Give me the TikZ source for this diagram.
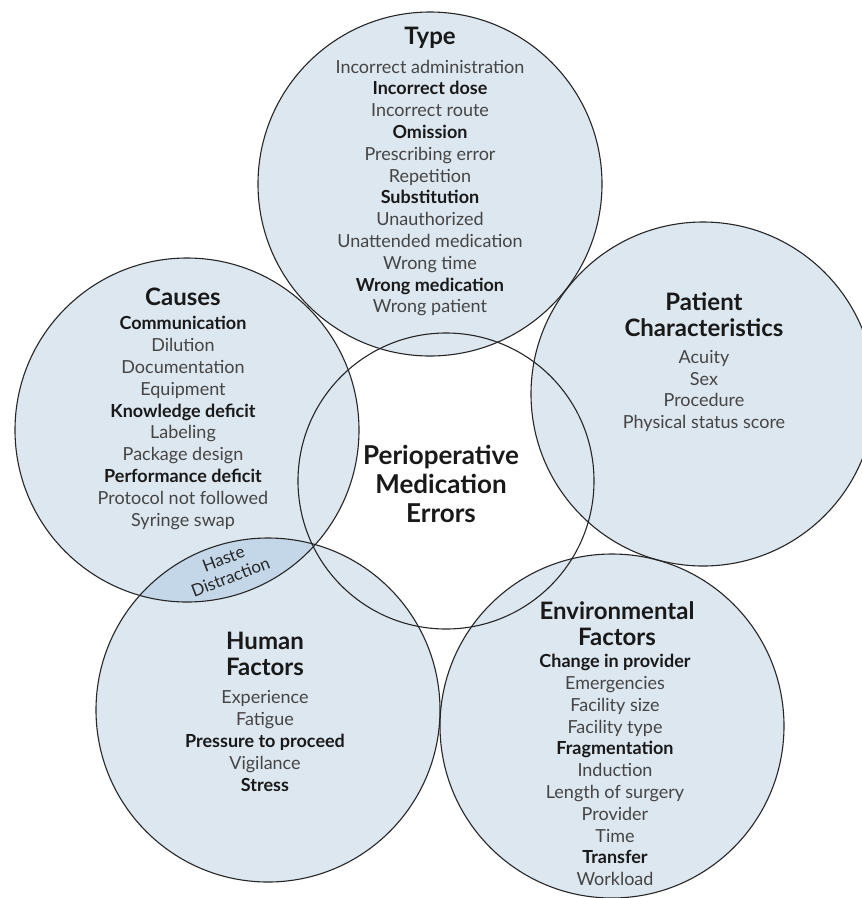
\documentclass[tikz,border=0pt]{standalone}
\usepackage{fontspec}
\setmainfont{Lato}
\usetikzlibrary{positioning}
\definecolor{venn}{HTML}{DDE7F0}
\definecolor{lens}{HTML}{C4D7E8}
\definecolor{itemgray}{HTML}{454545}
\newcommand{\hl}[1]{\textcolor{black!90}{\textbf{#1}}}

\begin{document}
\begin{tikzpicture}[x=1pt,y=-1pt,
  title/.style={align=center,font=\fontsize{24}{26}\selectfont\bfseries,text=black!90,inner sep=0pt},
  items/.style={align=center,font=\fontsize{18}{21.8}\selectfont,text=itemgray,inner sep=0pt},
  ring/.style={draw=black!85,line width=1.1pt}]
\clip (0,0) rectangle (862,898);
\coordinate (type) at (430,184);
\coordinate (causes) at (187,430);
\coordinate (patient) at (703,394);
\coordinate (human) at (268,710);
\coordinate (env) at (612,726);
\coordinate (core) at (446,481);
\fill[venn] (type) circle[radius=172pt];
\fill[venn] (causes) circle[radius=172pt];
\fill[venn] (patient) circle[radius=172pt];
\fill[venn] (human) circle[radius=172pt];
\fill[venn] (env) circle[radius=172pt];
\begin{scope}
\clip (causes) circle[radius=172pt];
\fill[lens] (human) circle[radius=172pt];
\end{scope}
\draw[ring] (core) circle[radius=148pt];
\draw[ring] (type) circle[radius=172pt];
\draw[ring] (causes) circle[radius=172pt];
\draw[ring] (patient) circle[radius=172pt];
\draw[ring] (human) circle[radius=172pt];
\draw[ring] (env) circle[radius=172pt];

\node[title] (typetitle) at (430,38) {Type};
\node[items] (typelist) at (430,188) {Incorrect administration\\ \hl{Incorrect dose}\\ Incorrect route\\ \hl{Omission}\\ Prescribing error\\ Repetition\\ \hl{Substitution}\\ Unauthorized\\ Unattended medication\\ Wrong time\\ \hl{Wrong medication}\\ Wrong patient};
\node[title] (causestitle) at (183,297) {Causes};
\node[items] (causeslist) at (183,423) {\hl{Communication}\\ Dilution\\ Documentation\\ Equipment\\ \hl{Knowledge deficit}\\ Labeling\\ Package design\\ \hl{Performance deficit}\\ Protocol not followed\\ Syringe swap};
\node[title] (patienttitle) at (704,315) {Patient\\ Characteristics};
\node[items] (patientlist) at (704,391) {Acuity\\ Sex\\ Procedure\\ Physical status score};
\node[title] (humantitle) at (265,654) {Human\\ Factors};
\node[items] (humanlist) at (265,741) {Experience\\ Fatigue\\ \hl{Pressure to proceed}\\ Vigilance\\ \hl{Stress}};
\node[title] (envtitle) at (617,624) {Environmental\\ Factors};
\node[items] (envlist) at (615,770) {\hl{Change in provider}\\ Emergencies\\ Facility size\\ Facility type\\ \hl{Fragmentation}\\ Induction\\ Length of surgery\\ Provider\\ Time\\ \hl{Transfer}\\ Workload};
\node[title,font=\fontsize{26}{29}\selectfont\bfseries] (coretitle) at (441,484) {Perioperative\\ Medication\\ Errors};
\node[items,text=black!85,font=\fontsize{17}{19.5}\selectfont,rotate=21] (overlap) at (227,568) {Haste\\ Distraction};
\end{tikzpicture}
\end{document}
